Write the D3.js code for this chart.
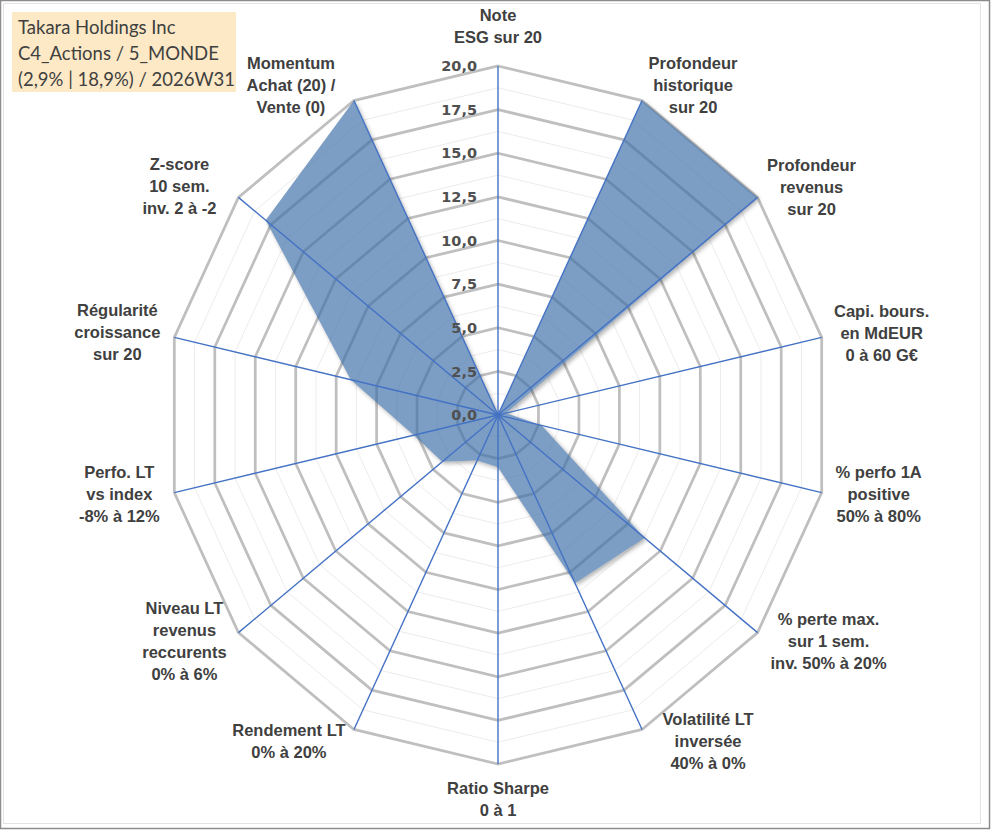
<!DOCTYPE html>
<html>
<head>
<meta charset="utf-8">
<script src="https://cdn.jsdelivr.net/npm/d3@7"></script>
<style>
    body { margin: 0; background: #fff; }
    svg { display: block; }
</style>
</head>
<body>
<svg></svg>
<script>
const width = 991
const height = 830

// Data
const categories = [
    ["Note", "ESG sur 20"],
    ["Profondeur", "historique", "sur 20"],
    ["Profondeur", "revenus", "sur 20"],
    ["Capi. bours.", "en MdEUR", "0 à 60 G€"],
    ["% perfo 1A", "positive", "50% à 80%"],
    ["% perte max.", "sur 1 sem.", "inv. 50% à 20%"],
    ["Volatilité LT", "inversée", "40% à 0%"],
    ["Ratio Sharpe", "0 à 1"],
    ["Rendement LT", "0% à 20%"],
    ["Niveau LT", "revenus", "reccurents", "0% à 6%"],
    ["Perfo. LT", "vs index", "-8% à 12%"],
    ["Régularité", "croissance", "sur 20"],
    ["Z-score", "10 sem.", "inv. 2 à -2"],
    ["Momentum", "Achat (20) /", "Vente (0)"]
]
const scores = [0, 20, 20, 0.5, 2.7, 11.3, 10.7, 3.0, 2.9, 4.3, 5.2, 9.1, 17.9, 20]
const tickValues = [0, 2.5, 5, 7.5, 10, 12.5, 15, 17.5, 20]
const tickLabels = ["0,0", "2,5", "5,0", "7,5", "10,0", "12,5", "15,0", "17,5", "20,0"]
const minorValues = [1.25, 3.75, 6.25, 8.75, 11.25, 13.75, 16.25, 18.75]
const titleLines = ["Takara Holdings Inc", "C4_Actions / 5_MONDE", "(2,9% | 18,9%) / 2026W31"]

// Label placement, offset of the text block centre from the end of each axis
const labelOffsets = [
    [0, -40], [51, -16], [54, -10], [60, -4], [57, 1], [71, 8], [66, 12],
    [0, 35], [-65, 12], [-54, 8], [-55, 1], [-57, -5], [-59, -11], [-63, -16]
]

const svg = d3.select("svg")
    .attr("width", width)
    .attr("height", height)

// frame
svg.append("rect")
    .attr("x", 0.5).attr("y", 0.5)
    .attr("width", width - 2).attr("height", height - 2)
    .attr("fill", "#fff")
    .attr("stroke", "#8c8c8c")
    .attr("stroke-width", 1.5)
svg.append("rect")
    .attr("x", 3.5).attr("y", 3.5)
    .attr("width", 977).attr("height", 820)
    .attr("fill", "none")
    .attr("stroke", "#e3e3e3")

const defs = svg.append("defs")
defs.append("filter").attr("id", "blur")
    .attr("x", "-10%").attr("y", "-10%").attr("width", "130%").attr("height", "130%")
    .append("feGaussianBlur").attr("stdDeviation", 2)

const render = () => {
    const n = categories.length
    const cx = 498
    const cy = 415

    // Scales (the picture is a little squeezed horizontally)
    const angle = d3.scaleLinear().domain([0, n]).range([0, 2 * Math.PI])
    const rX = d3.scaleLinear().domain([0, 20]).range([0, 332])
    const rY = d3.scaleLinear().domain([0, 20]).range([0, 349])
    const pt = (i, v) => [cx + rX(v) * Math.sin(angle(i)), cy - rY(v) * Math.cos(angle(i))]

    const ring = d3.line().curve(d3.curveLinearClosed)
    const idx = d3.range(n)
    const seriesPath = ring(scores.map((v, i) => pt(i, v)))

    // mask so the shadow only shows outside the area
    const mask = defs.append("mask").attr("id", "outside")
    mask.append("rect").attr("width", width).attr("height", height).attr("fill", "#fff")
    mask.append("path").attr("d", seriesPath).attr("fill", "#000")

    const g = svg.append("g")

    // Grid
    g.selectAll(".minor").data(minorValues)
        .enter().append("path")
        .attr("d", v => ring(idx.map(i => pt(i, v))))
        .attr("fill", "none")
        .attr("stroke", "#ececec")
        .attr("stroke-width", 1)

    g.selectAll(".major").data(tickValues.filter(v => v > 0))
        .enter().append("path")
        .attr("d", v => ring(idx.map(i => pt(i, v))))
        .attr("fill", "none")
        .attr("stroke", "#bfbfbf")
        .attr("stroke-width", 2.75)

    // Series
    g.append("g").attr("mask", "url(#outside)")
        .append("path")
        .attr("d", seriesPath)
        .attr("transform", "translate(2,2)")
        .attr("fill", "#000")
        .attr("fill-opacity", 0.3)
        .attr("filter", "url(#blur)")

    g.append("path")
        .attr("d", seriesPath)
        .attr("fill", "#3e6fa8")
        .attr("fill-opacity", 0.68)

    // Spokes
    g.selectAll(".spoke").data(idx)
        .enter().append("line")
        .attr("x1", cx).attr("y1", cy)
        .attr("x2", i => pt(i, 20)[0])
        .attr("y2", i => pt(i, 20)[1])
        .attr("stroke", "#4472c4")
        .attr("stroke-width", 1.4)

    // Value ticks
    g.selectAll(".tick").data(tickValues)
        .enter().append("text")
        .attr("x", cx - 21)
        .attr("y", v => cy - rY(v))
        .attr("dy", "0.36em")
        .attr("text-anchor", "end")
        .attr("font-family", "DejaVu Sans")
        .attr("font-weight", "bold")
        .attr("font-size", "14.5px")
        .attr("fill", "#505050")
        .text((v, i) => tickLabels[i])

    // Category labels
    const labels = g.selectAll(".label").data(categories)
        .enter().append("text")
        .attr("text-anchor", "middle")
        .attr("font-family", "Liberation Sans, Arial")
        .attr("font-weight", "bold")
        .attr("font-size", "16.5px")
        .attr("fill", "#404040")

    labels.each(function (lines, i) {
        const end = pt(i, 20)
        const x = end[0] + labelOffsets[i][0]
        const y0 = end[1] + labelOffsets[i][1] - (lines.length - 1) * 11
        d3.select(this).selectAll("tspan").data(lines)
            .enter().append("tspan")
            .attr("x", x)
            .attr("y", (d, k) => y0 + k * 22)
            .attr("dy", "0.36em")
            .text(d => d)
    })

    // Title box
    svg.append("rect")
        .attr("x", 12).attr("y", 12)
        .attr("width", 224).attr("height", 80)
        .attr("fill", "#fde9c6")

    svg.append("text")
        .attr("font-family", "Lato")
        .attr("font-size", "18.5px")
        .attr("fill", "#404040")
        .selectAll("tspan").data(titleLines)
        .enter().append("tspan")
        .attr("x", 18)
        .attr("y", (d, k) => 27 + k * 26)
        .attr("dy", "0.36em")
        .text(d => d)
}

render()
</script>
</body>
</html>
